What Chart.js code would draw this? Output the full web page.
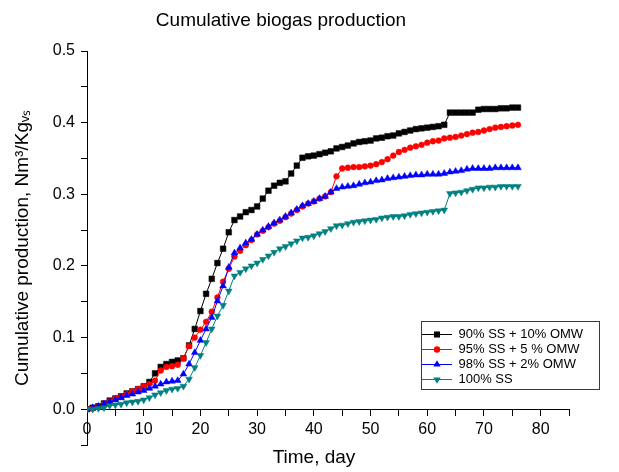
<!DOCTYPE html>
<html>
<head>
<meta charset="utf-8">
<script src="https://cdn.jsdelivr.net/npm/chart.js"></script>
<style>
    body { margin: 0; background: #fff; }
    #wrap { width: 619px; height: 472px; }
</style>
</head>
<body>
<div id="wrap"><canvas id="chart"></canvas></div>
<script>
// day axis, one reading per day
const days = [0, 1, 2, 3, 4, 5, 6, 7, 8, 9, 10, 11, 12, 13, 14, 15, 16, 17, 18, 19,
    20, 21, 22, 23, 24, 25, 26, 27, 28, 29, 30, 31, 32, 33, 34, 35, 36, 37, 38, 39,
    40, 41, 42, 43, 44, 45, 46, 47, 48, 49, 50, 51, 52, 53, 54, 55, 56, 57, 58, 59,
    60, 61, 62, 63, 64, 65, 66, 67, 68, 69, 70, 71, 72, 73, 74, 75, 76]

// cumulative production, Nm3/Kg VS
const ss90omw10 = [0.000, 0.002, 0.004, 0.008, 0.012, 0.015, 0.018, 0.022, 0.025, 0.028,
    0.032, 0.038, 0.050, 0.059, 0.063, 0.066, 0.068, 0.071, 0.089, 0.112,
    0.137, 0.161, 0.182, 0.204, 0.224, 0.247, 0.264, 0.269, 0.275, 0.278,
    0.283, 0.294, 0.305, 0.312, 0.316, 0.318, 0.329, 0.340, 0.351, 0.353,
    0.354, 0.356, 0.358, 0.360, 0.364, 0.366, 0.368, 0.371, 0.373, 0.374,
    0.375, 0.378, 0.379, 0.381, 0.382, 0.385, 0.387, 0.389, 0.391, 0.392,
    0.393, 0.394, 0.395, 0.397, 0.414, 0.414, 0.414, 0.414, 0.414, 0.418,
    0.419, 0.419, 0.419, 0.420, 0.420, 0.421, 0.421]
const ss95omw5 = [0.000, 0.001, 0.003, 0.007, 0.011, 0.015, 0.017, 0.021, 0.025, 0.028,
    0.032, 0.035, 0.040, 0.054, 0.059, 0.060, 0.062, 0.071, 0.088, 0.100,
    0.111, 0.122, 0.136, 0.156, 0.178, 0.196, 0.213, 0.221, 0.229, 0.236,
    0.244, 0.249, 0.254, 0.259, 0.263, 0.268, 0.273, 0.278, 0.283, 0.287,
    0.290, 0.294, 0.297, 0.303, 0.325, 0.336, 0.337, 0.338, 0.338, 0.339,
    0.340, 0.342, 0.345, 0.349, 0.354, 0.359, 0.362, 0.365, 0.367, 0.369,
    0.372, 0.374, 0.375, 0.378, 0.379, 0.380, 0.382, 0.384, 0.386, 0.387,
    0.389, 0.391, 0.393, 0.394, 0.395, 0.396, 0.397]
const ss98omw2 = [0.000, 0.002, 0.004, 0.007, 0.010, 0.013, 0.016, 0.019, 0.021, 0.024,
    0.026, 0.029, 0.032, 0.035, 0.038, 0.039, 0.040, 0.049, 0.063, 0.079,
    0.096, 0.112, 0.128, 0.151, 0.172, 0.198, 0.218, 0.225, 0.232, 0.237,
    0.244, 0.250, 0.255, 0.260, 0.264, 0.269, 0.274, 0.279, 0.284, 0.287,
    0.290, 0.294, 0.297, 0.303, 0.308, 0.310, 0.311, 0.312, 0.314, 0.316,
    0.317, 0.319, 0.320, 0.322, 0.323, 0.324, 0.325, 0.326, 0.327, 0.327,
    0.328, 0.328, 0.328, 0.329, 0.331, 0.332, 0.333, 0.335, 0.336, 0.336,
    0.336, 0.336, 0.337, 0.337, 0.337, 0.337, 0.337]
const ss100 = [0.000, 0.000, 0.001, 0.002, 0.005, 0.006, 0.007, 0.009, 0.010, 0.011,
    0.013, 0.016, 0.020, 0.023, 0.026, 0.028, 0.029, 0.032, 0.042, 0.058,
    0.075, 0.093, 0.112, 0.130, 0.145, 0.165, 0.186, 0.191, 0.196, 0.200,
    0.204, 0.209, 0.214, 0.219, 0.224, 0.227, 0.231, 0.235, 0.239, 0.240,
    0.242, 0.245, 0.248, 0.252, 0.256, 0.257, 0.259, 0.261, 0.262, 0.263,
    0.264, 0.265, 0.267, 0.268, 0.269, 0.269, 0.270, 0.272, 0.273, 0.274,
    0.275, 0.276, 0.277, 0.278, 0.301, 0.302, 0.303, 0.305, 0.307, 0.309,
    0.309, 0.310, 0.310, 0.311, 0.311, 0.311, 0.311]

const seriesLabels = ['90% SS + 10% OMW', '95% SS + 5 % OMW', '98% SS + 2% OMW', '100% SS']

const FONT = "'Liberation Sans', Arial, sans-serif"
Chart.defaults.font.family = FONT
Chart.defaults.color = '#000'

const series = [
    {label: seriesLabels[0], values: ss90omw10, color: '#000000', pointStyle: 'rect', radius: 4, rotation: 0},
    {label: seriesLabels[1], values: ss95omw5, color: '#ff0000', pointStyle: 'circle', radius: 2.9, rotation: 0},
    {label: seriesLabels[2], values: ss98omw2, color: '#0000ff', pointStyle: 'triangle', radius: 3.9, rotation: 0},
    {label: seriesLabels[3], values: ss100, color: '#008080', pointStyle: 'triangle', radius: 3.9, rotation: 180},
]

function toPoints(values) {
    return values.map((v, i) => ({x: days[i], y: v}))
}

// little line + marker picture, like the Origin legend
function legendSample(s) {
    const c = document.createElement('canvas')
    c.width = 30
    c.height = 11
    const ctx = c.getContext('2d')
    ctx.strokeStyle = s.color
    ctx.lineWidth = 1
    ctx.beginPath()
    ctx.moveTo(0, 5.5)
    ctx.lineTo(30, 5.5)
    ctx.stroke()
    ctx.fillStyle = s.color
    Chart.helpers.drawPoint(ctx, {pointStyle: s.pointStyle, radius: s.radius + 0.3, rotation: s.rotation, borderWidth: 0}, 15, 5.5)
    return c
}
const legendImages = series.map(legendSample)

const LEGEND_BOX = {left: 421, top: 321, width: 178, height: 68}
const TITLE_CENTER_X = 281
const XTITLE_CENTER_X = 314

const layoutTweak = {
    id: 'layoutTweak',
    afterLayout(chart) {
        const t = chart.titleBlock
        const tw = t.right - t.left
        t.left = TITLE_CENTER_X - tw / 2
        t.right = t.left + tw

        const xt = chart.scales.xt
        const xw = xt.right - xt.left
        xt.left = XTITLE_CENTER_X - xw / 2
        xt.right = xt.left + xw

        const lg = chart.legend
        lg.left = LEGEND_BOX.left - 1
        lg.top = LEGEND_BOX.top + 5
        lg.width = LEGEND_BOX.width
        lg.height = LEGEND_BOX.height - 4
        lg.right = lg.left + lg.width
        lg.bottom = lg.top + lg.height
    },
    afterDraw(chart) {
        const ctx = chart.ctx
        ctx.save()
        ctx.strokeStyle = '#3a3a3a'
        ctx.lineWidth = 1
        ctx.strokeRect(LEGEND_BOX.left + 0.5, LEGEND_BOX.top + 0.5, LEGEND_BOX.width, LEGEND_BOX.height)
        ctx.restore()
    }
}

new Chart(document.getElementById('chart'), {
    type: 'line',
    data: {
        datasets: series.map((s, i) => ({
            label: s.label,
            data: toPoints(s.values),
            xAxisID: 'x',
            yAxisID: 'y',
            order: series.length - i,
            borderColor: s.color,
            borderWidth: 1,
            backgroundColor: s.color,
            pointStyle: s.pointStyle,
            pointRotation: s.rotation,
            pointRadius: s.radius,
            pointBackgroundColor: s.color,
            pointBorderColor: s.color,
            pointBorderWidth: 0.5,
            fill: false,
            tension: 0
        }))
    },
    options: {
        responsive: true,
        maintainAspectRatio: false,
        animation: false,
        events: [],
        layout: {padding: {left: 0, right: 50, top: 0, bottom: 0}},
        scales: {
            x: {
                type: 'linear',
                axis: 'x',
                position: {y: 0},
                min: 0,
                max: 85,
                afterFit: (scale) => { scale.height = 0 },
                grid: {display: true, drawOnChartArea: false, drawTicks: true, tickLength: 6, color: '#000', tickColor: '#000'},
                border: {display: true, color: '#000', width: 1},
                ticks: {
                    stepSize: 5,
                    autoSkip: false,
                    maxRotation: 0,
                    padding: 5,
                    font: {size: 16},
                    callback: (v) => v % 10 === 0 ? String(v) : ''
                }
            },
            xt: {
                type: 'linear',
                axis: 'x',
                position: 'bottom',
                min: 0,
                max: 1,
                grid: {display: false, drawTicks: false},
                border: {display: false},
                ticks: {display: false},
                title: {display: true, text: 'Time, day', font: {size: 19}, padding: {top: 1.6, bottom: 2.6}}
            },
            y: {
                type: 'linear',
                position: 'left',
                min: -0.05,
                max: 0.5,
                afterFit: (scale) => { scale.width = 87 },
                grid: {display: true, drawOnChartArea: false, drawTicks: true, tickLength: 6, color: '#000', tickColor: '#000'},
                border: {display: true, color: '#000', width: 1},
                ticks: {
                    stepSize: 0.05,
                    autoSkip: false,
                    padding: 6,
                    font: {size: 16},
                    callback: (v) => {
                        const k = Math.round(v * 100)
                        return k >= 0 && k % 10 === 0 ? (k / 100).toFixed(1) : ''
                    }
                },
                title: {display: true, text: 'Cumulative production, Nm\u00b3/Kg\u1d65\u209b', font: {size: 19}, padding: {top: 11, bottom: 0}}
            }
        },
        plugins: {
            title: {
                display: true,
                text: 'Cumulative biogas production',
                font: {size: 19, weight: 'normal'},
                color: '#000',
                padding: {top: 9.6, bottom: 18.6}
            },
            legend: {
                display: true,
                position: 'chartArea',
                fullSize: false,
                align: 'start',
                labels: {
                    usePointStyle: true,
                    pointStyleWidth: 30,
                    padding: 2,
                    color: '#000',
                    font: {size: 13},
                    sort: (a, b) => a.datasetIndex - b.datasetIndex,
                    generateLabels: (chart) => {
                        const items = Chart.defaults.plugins.legend.labels.generateLabels(chart)
                        items.forEach(item => {
                            item.pointStyle = legendImages[item.datasetIndex]
                            item.rotation = 0
                        })
                        return items
                    }
                }
            },
            tooltip: {enabled: false}
        }
    },
    plugins: [layoutTweak]
})
</script>
</body>
</html>
